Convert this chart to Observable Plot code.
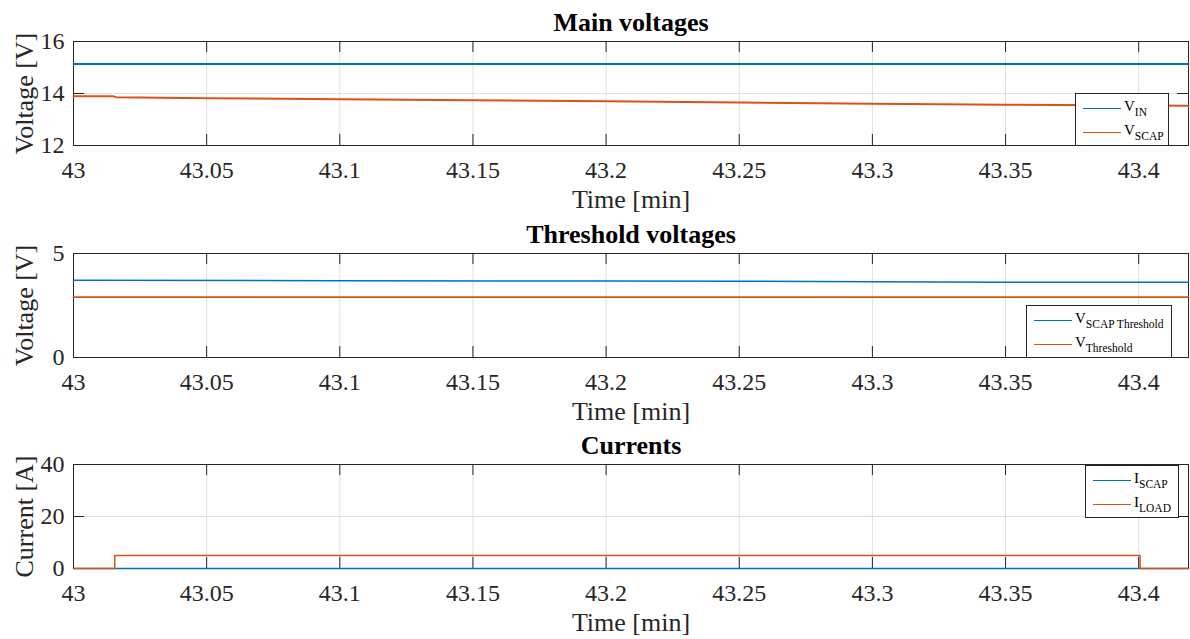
<!DOCTYPE html>
<html>
<head>
<meta charset="utf-8">
<script src="https://cdn.jsdelivr.net/npm/d3@7"></script>
<script src="https://cdn.jsdelivr.net/npm/@observablehq/plot@0.6"></script>
<style>
  html, body { margin: 0; padding: 0; background: #fff; }
  #root { position: relative; width: 1190px; height: 639px; overflow: hidden; font-family: 'Liberation Serif', 'Times New Roman', serif; }
  .panel { position: absolute; left: 0; }
  .legend { position: absolute; background: #fff; border: 1px solid #262626; box-sizing: border-box; }
  .legend .sw { position: absolute; height: 1.3px; }
  .legend .lb { position: absolute; font-size: 15px; line-height: 15px; color: #000; white-space: nowrap; }
  .legend .lb sub { font-size: 11.5px; vertical-align: -5px; line-height: 0; }
</style>
</head>
<body>
<div id="root"></div>
<script>
// ---------- data ----------
const xDomain = [43, 43.4187];
const xTicks = [43, 43.05, 43.1, 43.15, 43.2, 43.25, 43.3, 43.35, 43.4];
const xTickLabels = ["43", "43.05", "43.1", "43.15", "43.2", "43.25", "43.3", "43.35", "43.4"];

// Panel 1: main voltages
const vinTime = [43, 43.4187];
const vinValue = [15.13, 15.13];
const vscapTime = [43, 43.015, 43.016, 43.05, 43.1, 43.15, 43.2, 43.25, 43.3, 43.35, 43.4187];
const vscapValue = [13.89, 13.89, 13.86, 13.82, 13.78, 13.74, 13.70, 13.65, 13.61, 13.57, 13.53];
const p1YTicks = [12, 14, 16];
const p1YTickLabels = ["12", "14", "16"];

// Panel 2: threshold voltages
const vscapThrTime = [43, 43.1, 43.2, 43.25, 43.3, 43.35, 43.4187];
const vscapThrValue = [3.71, 3.69, 3.68, 3.67, 3.64, 3.62, 3.62];
const vThrTime = [43, 43.4187];
const vThrValue = [2.90, 2.90];
const p2YTicks = [0, 5];
const p2YTickLabels = ["0", "5"];

// Panel 3: currents
const iscapTime = [43, 43.4187];
const iscapValue = [0, 0];
const iloadTime = [43, 43.0155, 43.4005, 43.4187];
const iloadValue = [0, 5.0, 0, 0];
const p3YTicks = [0, 20, 40];
const p3YTickLabels = ["0", "20", "40"];

const blue = "#0072BD", orange = "#D95319";
const axisColor = "#262626", gridColor = "#dfdfdf";
const fontFamily = "Liberation Serif";

const zip = (t, v) => t.map((d, i) => ({t: d, v: v[i]}));

// ---------- layout ----------
const W = 1190, ML = 73, MR = 2, MT = 41, FH = 104, MB = 67;
const PW = W - ML - MR;
const TL = 11; // inward tick length

function panel({top, title, ylabel, yDomain, yTicks, yTickLabels, series}) {
  const chart = Plot.plot({
    width: W, height: MT + FH + MB,
    marginLeft: ML, marginRight: MR, marginTop: MT, marginBottom: MB,
    style: {fontFamily, background: "transparent", color: axisColor, overflow: "visible"},
    x: {domain: xDomain, axis: null},
    y: {domain: yDomain, axis: null},
    marks: [
      Plot.gridX(xTicks, {x: d => d, stroke: gridColor, strokeOpacity: 1}),
      Plot.gridY(yTicks, {y: d => d, stroke: gridColor, strokeOpacity: 1}),
      Plot.tickX(xTicks, {x: d => d, insetBottom: FH - TL, stroke: axisColor}),
      Plot.tickX(xTicks, {x: d => d, insetTop: FH - TL, stroke: axisColor}),
      Plot.tickY(yTicks, {y: d => d, insetRight: PW - TL, stroke: axisColor}),
      Plot.tickY(yTicks, {y: d => d, insetLeft: PW - TL, stroke: axisColor}),
      Plot.frame({stroke: axisColor}),
      ...series.map(s => Plot.line(zip(s.t, s.v), {x: "t", y: "v", stroke: s.color, strokeWidth: s.width, curve: s.curve || "linear"})),
      Plot.text(xTicks, {x: d => d, text: d => xTickLabels[xTicks.indexOf(d)], frameAnchor: "bottom",
        dy: 15, lineAnchor: "top", fontSize: 24, fill: axisColor, fontFamily}),
      Plot.text(yTicks, {y: d => d, text: d => yTickLabels[yTicks.indexOf(d)], frameAnchor: "left",
        dx: -9, textAnchor: "end", fontSize: 24, fill: axisColor, fontFamily}),
      Plot.text([title], {text: d => d, frameAnchor: "top", dy: -11, lineAnchor: "bottom",
        fontWeight: "bold", fontSize: 26, fill: "#000", fontFamily}),
      Plot.text(["Time [min]"], {text: d => d, frameAnchor: "bottom", dy: 62, lineAnchor: "bottom",
        fontSize: 26, fill: axisColor, fontFamily}),
      Plot.text([ylabel], {text: d => d, frameAnchor: "left", textAnchor: "middle", rotate: -90, dx: -49,
        lineAnchor: "middle", fontSize: 26, fill: axisColor, fontFamily})
    ]
  });
  chart.classList.add("panel");
  chart.style.top = top + "px";
  return chart;
}

function legend({left, top, width, items}) {
  const div = document.createElement("div");
  div.className = "legend";
  div.style.left = left + "px";
  div.style.top = top + "px";
  div.style.width = width + "px";
  div.style.height = "53px";
  const rowY = [14, 37.5];
  items.forEach((it, i) => {
    const sw = document.createElement("div");
    sw.className = "sw";
    sw.style.left = "7px"; sw.style.width = "38px";
    sw.style.top = rowY[i] + "px";
    sw.style.background = it.color;
    div.appendChild(sw);
    const lb = document.createElement("div");
    lb.className = "lb";
    lb.style.left = "48px";
    lb.style.top = (rowY[i] - 9) + "px";
    lb.innerHTML = it.main + "<sub>" + it.sub + "</sub>";
    div.appendChild(lb);
  });
  return div;
}

const root = document.getElementById("root");
root.appendChild(panel({
  top: 0, title: "Main voltages", ylabel: "Voltage [V]", yDomain: [12, 16], yTicks: p1YTicks, yTickLabels: p1YTickLabels,
  series: [
    {t: vinTime, v: vinValue, color: blue, width: 2},
    {t: vscapTime, v: vscapValue, color: orange, width: 2}
  ]
}));
root.appendChild(panel({
  top: 212, title: "Threshold voltages", ylabel: "Voltage [V]", yDomain: [0, 5], yTicks: p2YTicks, yTickLabels: p2YTickLabels,
  series: [
    {t: vscapThrTime, v: vscapThrValue, color: blue, width: 1.5},
    {t: vThrTime, v: vThrValue, color: orange, width: 1.8}
  ]
}));
root.appendChild(panel({
  top: 423, title: "Currents", ylabel: "Current [A]", yDomain: [0, 40], yTicks: p3YTicks, yTickLabels: p3YTickLabels,
  series: [
    {t: iscapTime, v: iscapValue, color: blue, width: 1.5},
    {t: iloadTime, v: iloadValue, color: orange, width: 1.5, curve: "step-after"}
  ]
}));

root.appendChild(legend({left: 1075, top: 93, width: 94, items: [
  {main: "V", sub: "IN", color: blue}, {main: "V", sub: "SCAP", color: orange}]}));
root.appendChild(legend({left: 1026, top: 305, width: 146, items: [
  {main: "V", sub: "SCAP Threshold", color: blue}, {main: "V", sub: "Threshold", color: orange}]}));
root.appendChild(legend({left: 1085, top: 465, width: 94, items: [
  {main: "I", sub: "SCAP", color: blue}, {main: "I", sub: "LOAD", color: orange}]}));
</script>
</body>
</html>
